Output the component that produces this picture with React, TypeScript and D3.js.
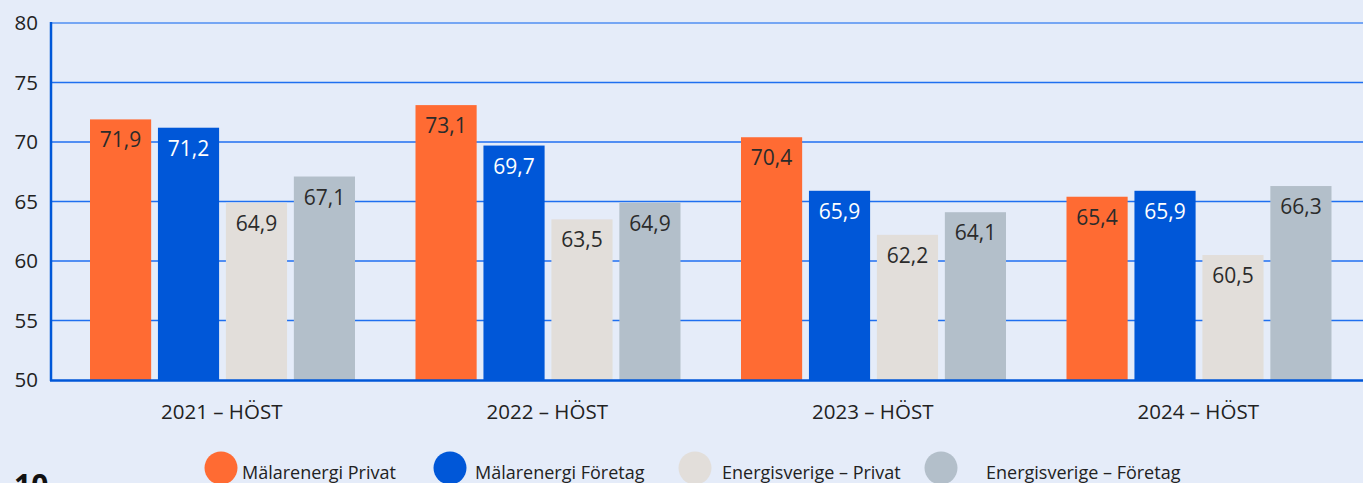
import React from "react";
import * as d3 from "d3";

const categories = ["2021 – HÖST", "2022 – HÖST", "2023 – HÖST", "2024 – HÖST"];
const seriesNames = ["Mälarenergi Privat", "Mälarenergi Företag", "Energisverige – Privat", "Energisverige – Företag"];
const malarPrivat = [71.9, 73.1, 70.4, 65.4];
const malarForetag = [71.2, 69.7, 65.9, 65.9];
const esPrivat = [64.9, 63.5, 62.2, 60.5];
const esForetag = [67.1, 64.9, 64.1, 66.3];
const yTicks = [50, 55, 60, 65, 70, 75, 80];

const seriesValues = [malarPrivat, malarForetag, esPrivat, esForetag];
const colors = ["#FF6B33", "#0057D8", "#E2DEDA", "#B3BFCA"];
const labelColors = ["#2b2b2b", "#ffffff", "#2b2b2b", "#2b2b2b"];

const W = 1363;
const H = 483;
const FONT = "'Open Sans', 'Noto Sans', sans-serif";

export default function App() {
  const y = d3.scaleLinear().domain([50, 80]).range([380, 23]);
  const x0 = d3.scaleBand<string>().domain(categories).range([59, 1361]);
  const x1 = d3.scaleBand<string>().domain(seriesNames).range([31, 296]).paddingInner(0.1);
  const fmt = (v: number) => v.toFixed(1).replace(".", ",");
  const legendX = [221, 450, 695, 941];
  const legendTextX = [242, 475, 722, 986];

  return (
    <svg width={W} height={H} style={{ position: "absolute", left: 0, top: 0, background: "#E5ECF9" }}>
      <rect x={0} y={0} width={W} height={H} fill="#E5ECF9" />
      {yTicks.map((t) => (
        <g key={t}>
          {t > 50 && (
            <line x1={52} x2={W} y1={y(t)} y2={y(t)} stroke={t === 80 ? "#4f8ff2" : "#1f6ff0"} strokeWidth={1.5} />
          )}
          <text x={38} y={y(t)} dy="0.35em" textAnchor="end" fontFamily={FONT} fontSize={20.5} fill="#222">
            {t}
          </text>
        </g>
      ))}
      {categories.map((c, ci) => (
        <g key={c} transform={`translate(${x0(c)},0)`}>
          {seriesNames.map((s, si) => {
            const v = seriesValues[si][ci];
            const bx = x1(s)!;
            const bw = x1.bandwidth();
            return (
              <g key={s}>
                <rect x={bx} y={y(v)} width={bw} height={y(50) - y(v)} fill={colors[si]} />
                <text
                  x={bx + bw / 2}
                  y={y(v) + 28}
                  textAnchor="middle"
                  fontFamily={FONT}
                  fontSize={21}
                  fill={labelColors[si]}
                >
                  {fmt(v)}
                </text>
              </g>
            );
          })}
          <text
            x={x0.bandwidth() / 2}
            y={418.5}
            textAnchor="middle"
            fontFamily={FONT}
            fontSize={20.5}
            fill="#222"
          >
            {c}
          </text>
        </g>
      ))}
      <line x1={51} x2={51} y1={22} y2={381} stroke="#0057D8" strokeWidth={2.5} />
      <line x1={50} x2={W} y1={380.5} y2={380.5} stroke="#0057D8" strokeWidth={2.5} />
      {seriesNames.map((s, i) => (
        <g key={s}>
          <circle cx={legendX[i]} cy={468} r={16.5} fill={colors[i]} />
          <text x={legendTextX[i]} y={479} fontFamily={FONT} fontSize={18} fill="#222">
            {s}
          </text>
        </g>
      ))}
      <text x={14} y={496} fontFamily={FONT} fontSize={30} fontWeight={700} fill="#111">
        10
      </text>
    </svg>
  );
}
